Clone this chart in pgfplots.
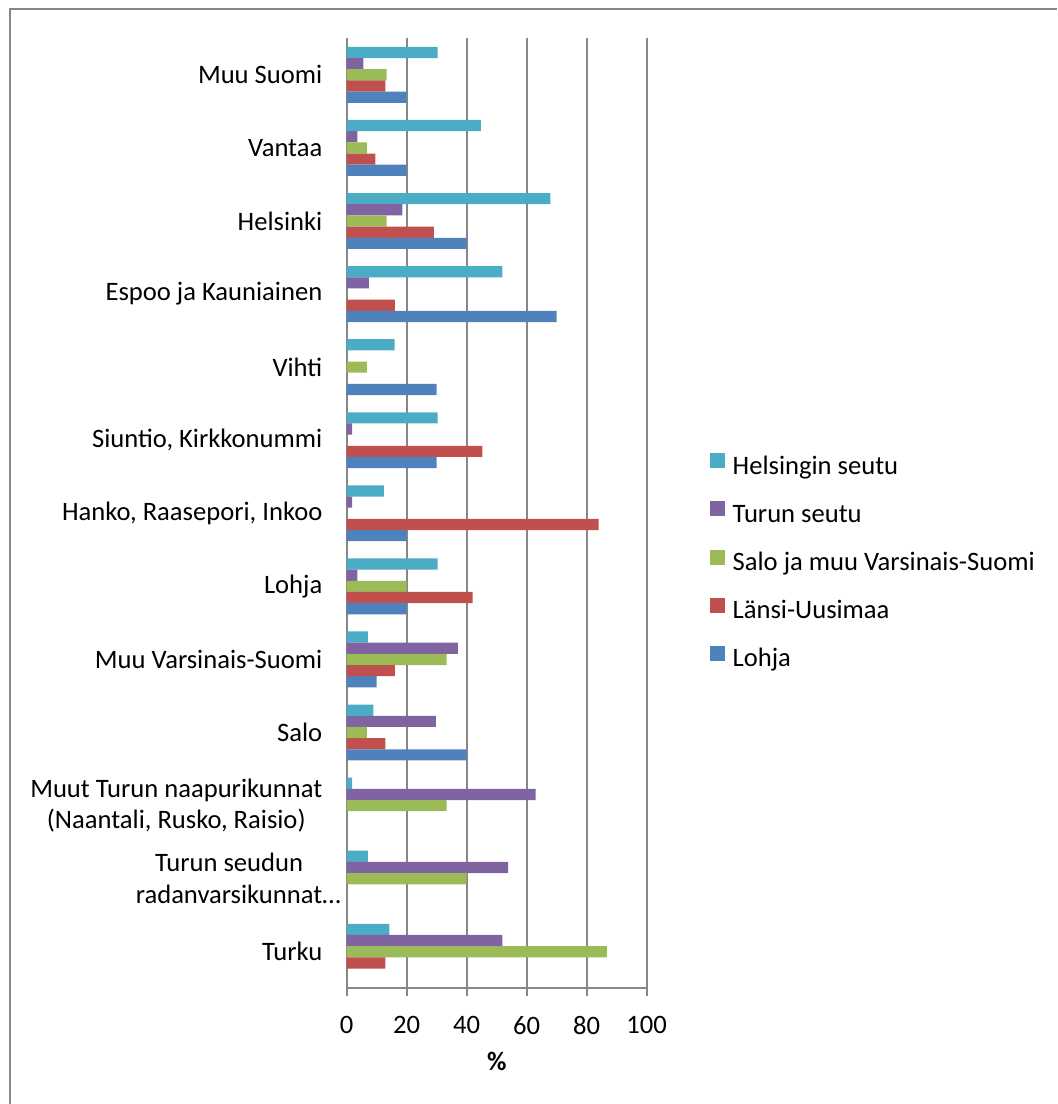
\documentclass[border=0pt]{standalone}
\usepackage{fontspec}
\setmainfont{Carlito}
\usepackage{pgfplots}
\pgfplotsset{compat=1.18}

\definecolor{cHel}{HTML}{4BACC6}
\definecolor{cTur}{HTML}{8064A2}
\definecolor{cSal}{HTML}{9BBB59}
\definecolor{cLan}{HTML}{C0504D}
\definecolor{cLoh}{HTML}{4F81BD}
\definecolor{gridgray}{HTML}{878787}

\newcommand{\chartfont}{\fontsize{13.3pt}{15.9pt}\selectfont}

\begin{document}
\begin{tikzpicture}
\useasboundingbox (0,0) rectangle (528.5pt,552pt);
% chart area frame
\draw[gridgray, line width=1pt] (4.75pt,0pt) -- (4.75pt,547.25pt) -- (528.5pt,547.25pt);
\begin{axis}[
  at={(173.35pt,57.85pt)}, anchor=south west,
  scale only axis, width=150pt, height=475pt,
  xbar, bar width=0.153,
  xmin=0, xmax=100, ymin=-0.5, ymax=12.5,
  axis lines*=left,
  axis line style={-, draw=gridgray, line width=1pt},
  xmajorgrids, grid style={gridgray, line width=1pt},
  tick align=outside,
  major tick length=4pt,
  xtick={0,20,...,100},
  xtick style={draw=gridgray, line width=1pt},
  ytick={0,...,12},
  ytick style={draw=none},
  yticklabels={
    Turku,
    {Turun seudun\\radanvarsikunnat\rlap{…}},
    {Muut Turun naapurikunnat\\(Naantali, Rusko, Raisio)},
    Salo,
    Muu Varsinais-Suomi,
    Lohja,
    {Hanko, Raasepori, Inkoo},
    {Siuntio, Kirkkonummi},
    Vihti,
    Espoo ja Kauniainen,
    Helsinki,
    Vantaa,
    Muu Suomi},
  extra y ticks={-0.5,0.5,...,12.5},
  extra y tick labels={},
  extra y tick style={tick style={draw=gridgray, line width=1pt}, major tick length=4pt, grid=none},
  /pgf/number format/assume math mode=true,
  tick label style={font=\chartfont},
  yticklabel style={align=center, inner sep=0pt, anchor=east, xshift=-8pt},
  xticklabel style={inner sep=0pt, anchor=north, yshift=-9.85pt},
  xlabel={\textbf{\%}},
  xlabel style={at={(axis description cs:0.5,0)}, anchor=north, inner sep=0pt, yshift=-31.6pt, font=\chartfont},
  legend style={at={(1.211,0.5635)}, anchor=north west, draw=none, fill=none,
    inner sep=0pt, row sep=10.55pt, column sep=3.65pt, font=\chartfont,
    nodes={inner sep=0pt, text height=9pt, text depth=3pt}},
  legend cell align=left,
  legend image code/.code={\fill[#1] (0pt,0pt) rectangle (7.5pt,7.5pt);},
]
% Helsingin seutu
\addplot[fill=cHel, draw=none, bar shift=0.306] coordinates {
  (14.2,0) (7.1,1) (1.8,2) (8.9,3) (7.1,4) (30.3,5) (12.4,6)
  (30.3,7) (16.0,8) (51.9,9) (67.9,10) (44.7,11) (30.3,12)};
% Turun seutu
\addplot[fill=cTur, draw=none, bar shift=0.153] coordinates {
  (51.9,0) (53.8,1) (63.0,2) (29.7,3) (37.1,4) (3.6,5) (1.8,6)
  (1.8,7) (7.4,9) (18.6,10) (3.6,11) (5.6,12)};
% Salo ja muu Varsinais-Suomi
\addplot[fill=cSal, draw=none, bar shift=0] coordinates {
  (86.7,0) (40.0,1) (33.3,2) (6.7,3) (33.3,4) (20.0,5)
  (6.7,8) (13.3,10) (6.7,11) (13.3,12)};
% Länsi-Uusimaa
\addplot[fill=cLan, draw=none, bar shift=-0.153] coordinates {
  (12.9,0) (12.9,3) (16.1,4) (42.0,5) (84.0,6) (45.2,7)
  (16.1,9) (29.1,10) (9.6,11) (12.9,12)};
% Lohja
\addplot[fill=cLoh, draw=none, bar shift=-0.306] coordinates {
  (40,3) (10,4) (20,5) (20,6) (30,7) (30,8) (70,9) (40,10) (20,11) (20,12)};
\legend{Helsingin seutu, Turun seutu, Salo ja muu Varsinais-Suomi, Länsi-Uusimaa, Lohja}
\end{axis}
\end{tikzpicture}
\end{document}
